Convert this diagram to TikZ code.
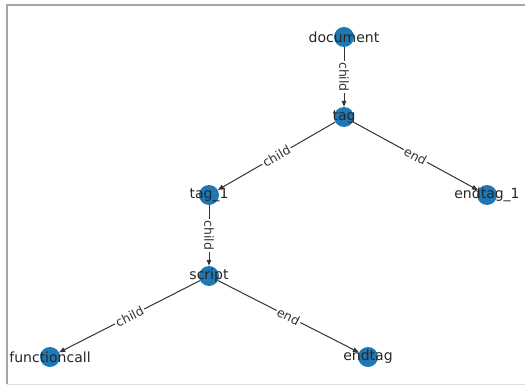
\documentclass[tikz,border=0pt]{standalone}
\usepackage{fontspec}
\setmainfont{DejaVu Sans}
\usetikzlibrary{arrows.meta}
\definecolor{nxblue}{HTML}{1F77B4}

\begin{document}
\begin{tikzpicture}[x=1pt, y=-1pt,
        vert/.style={circle, fill=nxblue, minimum size=20pt, inner sep=0pt},
        vname/.style={font=\fontsize{14}{14}\selectfont, inner sep=0pt, text=black!85},
        link/.style={-{Triangle[length=6pt, width=4.5pt]}, draw=black!80, line width=1pt},
        elabel/.style={midway, sloped, fill=white, inner sep=1.5pt, text=black!80, font=\fontsize{12.5}{12.5}\selectfont}]
    \useasboundingbox (0, 0) rectangle (525, 388);
    % frame of the axes
    \draw[gray!70, line width=1.2pt] (7, 384) -- (7, 5) -- (530, 5);
    \draw[gray!25, line width=0.8pt] (7, 384) -- (530, 384);
    % vertices
    \foreach \nm/\x/\y in {document/344/37, tag/344/117, tag1/209/195, endtag1/487/195,
                          script/209/276, functioncall/50/357, endtag/368/357}
    {
        \node[vert] (\nm) at (\x, \y) {};
    }
    % edges
    \draw[link] (document) -- (tag) node[elabel] {child};
    \draw[link] (tag) -- (tag1) node[elabel] {child};
    \draw[link] (tag) -- (endtag1) node[elabel] {end};
    \draw[link] (tag1) -- (script) node[elabel] {child};
    \draw[link] (script) -- (functioncall) node[elabel] {child};
    \draw[link] (script) -- (endtag) node[elabel] {end};
    % names on top
    \foreach \nm/\txt in {document/document, tag/tag, tag1/tag\_1, endtag1/endtag\_1,
                          script/script, functioncall/functioncall, endtag/endtag}
    {
        \node[vname] at (\nm) {\txt};
    }
\end{tikzpicture}
\end{document}
